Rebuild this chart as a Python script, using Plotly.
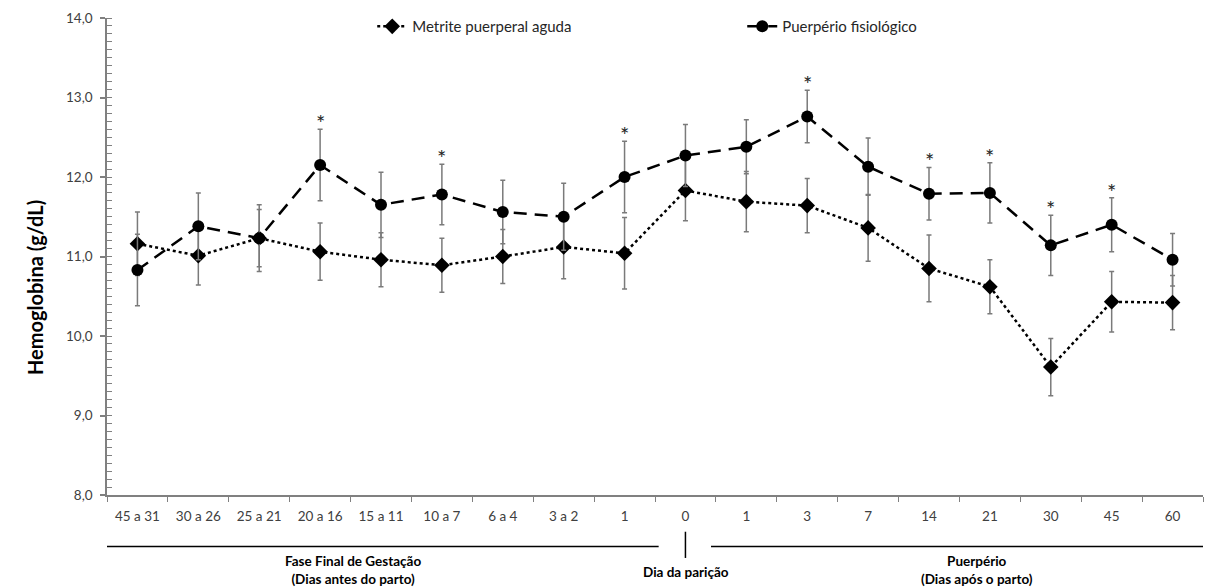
import plotly.graph_objects as go

categories = ["45 a 31", "30 a 26", "25 a 21", "20 a 16", "15 a 11", "10 a 7", "6 a 4",
              "3 a 2", "1", "0", "1", "3", "7", "14", "21", "30", "45", "60"]

metrite_mean = [11.16, 11.01, 11.23, 11.06, 10.96, 10.89, 11.00, 11.12, 11.04, 11.83,
                11.69, 11.64, 11.36, 10.85, 10.62, 9.61, 10.43, 10.42]
metrite_err = [0.40, 0.37, 0.36, 0.36, 0.34, 0.34, 0.34, 0.40, 0.45, 0.38,
               0.38, 0.34, 0.42, 0.42, 0.34, 0.36, 0.38, 0.34]

fisio_mean = [10.83, 11.38, 11.23, 12.15, 11.65, 11.78, 11.56, 11.50, 12.00, 12.27,
              12.38, 12.76, 12.13, 11.79, 11.80, 11.14, 11.40, 10.96]
fisio_err = [0.45, 0.42, 0.42, 0.45, 0.41, 0.38, 0.40, 0.42, 0.45, 0.39,
             0.34, 0.33, 0.36, 0.33, 0.38, 0.38, 0.34, 0.33]

significant = [False, False, False, True, False, True, False, False, True, False,
               False, True, False, True, True, True, True, False]

x = list(range(len(categories)))
FONT = "Lato, 'Open Sans', sans-serif"
ERR_COLOR = "#7a7a7a"

fig = go.Figure()
fig.add_trace(go.Scatter(
    x=x, y=metrite_mean, name="Metrite puerperal aguda", mode="lines+markers",
    line=dict(color="black", width=2.5, dash="dot"),
    marker=dict(symbol="diamond", size=12, color="black"),
    error_y=dict(type="data", array=metrite_err, visible=True, color=ERR_COLOR,
                 thickness=1.5, width=2.5),
))
fig.add_trace(go.Scatter(
    x=x, y=fisio_mean, name="Puerpério fisiológico", mode="lines+markers",
    line=dict(color="black", width=2.5, dash="13px,8px"),
    marker=dict(symbol="circle", size=12, color="black"),
    error_y=dict(type="data", array=fisio_err, visible=True, color=ERR_COLOR,
                 thickness=1.5, width=2.5),
))

for i, sig in enumerate(significant):
    if sig:
        fig.add_annotation(x=i, y=fisio_mean[i] + fisio_err[i], text="*", showarrow=False,
                           yanchor="bottom", yshift=-9, font=dict(size=22, color="#262626"))

# y axis title (placed like the original, centred on the full height)
fig.add_annotation(x=-0.0785, y=0.436, xref="paper", yref="paper", showarrow=False,
                   textangle=-90, text="<b>Hemoglobina (g/dL)</b>",
                   font=dict(family=FONT, size=20, color="black"))

# group lines under the x axis
line_y = -0.108
fig.add_shape(type="line", xref="x", yref="paper", x0=-0.5, x1=8.56, y0=line_y, y1=line_y,
              line=dict(color="black", width=1.5))
fig.add_shape(type="line", xref="x", yref="paper", x0=9.42, x1=17.5, y0=line_y, y1=line_y,
              line=dict(color="black", width=1.5))
fig.add_shape(type="line", xref="x", yref="paper", x0=9, x1=9, y0=-0.077, y1=-0.132,
              line=dict(color="black", width=1.5))

group_font = dict(family=FONT, size=13.5, color="black")
fig.add_annotation(x=3.54, y=-0.118, xref="x", yref="paper", showarrow=False, yanchor="top",
                   text="<b>Fase Final de Gestação<br>(Dias antes do parto)</b>", font=group_font)
fig.add_annotation(x=9.01, y=-0.14, xref="x", yref="paper", showarrow=False, yanchor="top",
                   text="<b>Dia da parição</b>", font=group_font)
fig.add_annotation(x=13.79, y=-0.118, xref="x", yref="paper", showarrow=False, yanchor="top",
                   text="<b>Puerpério<br>(Dias após o parto)</b>", font=group_font)

fig.update_layout(
    width=1206, height=587,
    margin=dict(l=107, r=3, t=18, b=92),
    plot_bgcolor="white", paper_bgcolor="white",
    separators=",.",
    font=dict(family=FONT, size=13, color="#404040"),
    showlegend=True,
    legend=dict(orientation="h", x=0.242, y=0.982, xanchor="left", yanchor="middle",
                font=dict(family=FONT, size=15, color="#262626"),
                entrywidth=325, bgcolor="rgba(0,0,0,0)", itemwidth=30),
    xaxis=dict(
        range=[-0.5, 17.5], tickmode="array", tickvals=x, ticktext=categories,
        showline=True, linecolor="#808080", linewidth=1.5, ticks="",
        ticklabelstandoff=8,
        showgrid=False, zeroline=False, tickfont=dict(size=13.5, color="#404040"),
        minor=dict(tickmode="linear", tick0=-0.5, dtick=1, ticks="outside",
                   ticklen=5, tickcolor="#808080", tickwidth=1, showgrid=False),
    ),
    yaxis=dict(
        range=[8, 14], dtick=1, tickformat=".1f",
        showline=True, linecolor="#808080", linewidth=1.5,
        ticks="outside", ticklen=5, tickcolor="#808080", tickwidth=1.5,
        ticklabelstandoff=5,
        showgrid=False, zeroline=False, tickfont=dict(size=13.5, color="#404040"),
        minor=dict(dtick=0.1, ticks="inside", ticklen=5, tickcolor="#808080",
                   tickwidth=1, showgrid=False),
    ),
)

fig.write_html("out.html")
